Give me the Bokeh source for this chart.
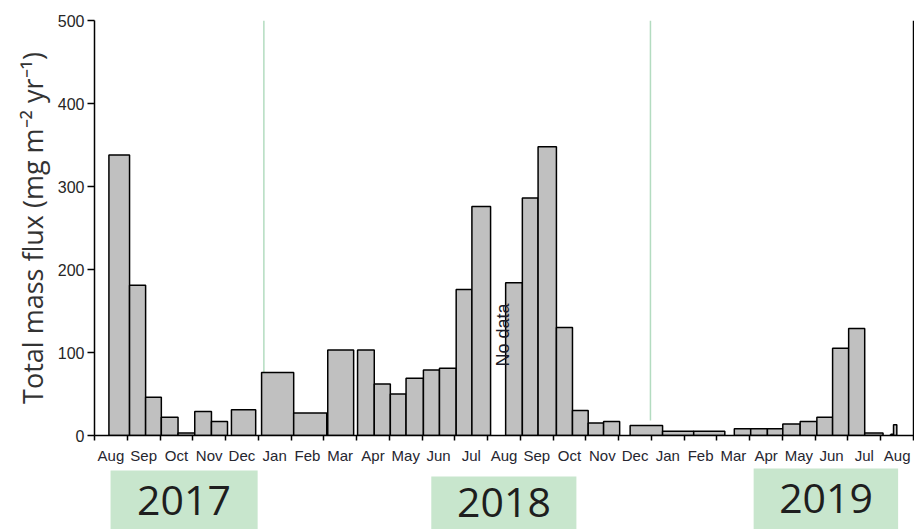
import math
from bokeh.plotting import figure
from bokeh.models import Range1d, FixedTicker, Span
from bokeh.layouts import column
from bokeh.embed import file_html
from bokeh.resources import INLINE
from bokeh.core.properties import value

# Sampling intervals, in months since 1 Aug 2017
bar_start = [0.44, 1.07, 1.56, 2.04, 2.55, 3.06, 3.57, 4.18, 5.10, 6.08,
             7.12, 8.03, 8.54, 9.03, 9.51, 10.04, 10.53, 11.04, 11.52, 12.55,
             13.06, 13.54, 14.10, 14.59, 15.07, 15.54, 16.35, 17.34, 18.29, 19.53,
             20.03, 20.54, 21.01, 21.54, 22.05, 22.53, 23.02, 23.51, 24.31, 24.39]
bar_end = [1.07, 1.56, 2.04, 2.55, 3.06, 3.57, 4.06, 4.92, 6.08, 7.09,
           7.91, 8.54, 9.03, 9.51, 10.04, 10.53, 11.04, 11.52, 12.09, 13.06,
           13.54, 14.10, 14.59, 15.07, 15.54, 16.03, 17.34, 18.29, 19.24, 20.03,
           20.54, 21.01, 21.54, 22.05, 22.53, 23.02, 23.51, 24.07, 24.39, 24.49]
# Total mass flux (mg m-2 yr-1)
flux = [338, 181, 46, 22, 3, 29, 17, 31, 76, 27,
        103, 103, 62, 50, 69, 79, 81, 176, 276, 184,
        286, 348, 130, 30, 15, 17, 12, 5, 5, 8,
        8, 8, 14, 17, 22, 105, 129, 3, 1.5, 13]

month_labels = ["Aug", "Sep", "Oct", "Nov", "Dec", "Jan", "Feb", "Mar", "Apr",
                "May", "Jun", "Jul", "Aug", "Sep", "Oct", "Nov", "Dec", "Jan",
                "Feb", "Mar", "Apr", "May", "Jun", "Jul", "Aug"]
y_ticks = [0, 100, 200, 300, 400, 500]
year_labels = ["2017", "2018", "2019"]
year_line_x = [5.17, 16.97]

no_data_x = 12.47
no_data_y = 121

x_range = Range1d(0, 25.03)

p = figure(width=914, height=466, x_range=x_range, y_range=Range1d(0, 500),
           output_backend="svg", toolbar_location=None,
           min_border_left=94, min_border_right=0, min_border_top=20, min_border_bottom=0)
p.outline_line_color = None
p.xgrid.grid_line_color = None
p.ygrid.grid_line_color = None
p.background_fill_color = "white"
p.border_fill_color = "white"

# year boundary lines
p.segment(x0=year_line_x, y0=[0, 18], x1=year_line_x, y1=[500, 500],
          line_color="#b3dcc0", line_width=1.5)

p.quad(left=bar_start, right=bar_end, bottom=0, top=flux,
       fill_color="#c0c0c0", line_color="black", line_width=1.5)

p.text(x=[no_data_x], y=[no_data_y], text=["No data"], angle=math.pi / 2,
       text_align="center", text_baseline="middle",
       text_font=value("Liberation Sans"), text_font_size="18px", text_color="#1c1c28")

p.add_layout(Span(location=25, dimension="height", line_color="black", line_width=1.5))

# x axis
xa = p.xaxis[0]
xa.ticker = FixedTicker(ticks=[i + 0.5 for i in range(25)], minor_ticks=list(range(26)))
xa.major_label_overrides = {i + 0.5: lab for i, lab in enumerate(month_labels)}
xa.major_tick_line_color = None
xa.major_tick_out = 0
xa.major_tick_in = 0
xa.minor_tick_line_color = "black"
xa.minor_tick_line_width = 1.5
xa.minor_tick_out = 5
xa.minor_tick_in = 0
xa.axis_line_width = 1.5
xa.axis_line_color = "black"
xa.major_label_standoff = 6
xa.major_label_text_font = "Liberation Sans"
xa.major_label_text_font_size = "15px"
xa.major_label_text_color = "#262630"

# y axis
ya = p.yaxis[0]
ya.ticker = FixedTicker(ticks=y_ticks)
ya.minor_tick_line_color = None
ya.major_tick_out = 7
ya.major_tick_in = 0
ya.major_tick_line_width = 1.5
ya.axis_line_width = 1.5
ya.axis_line_color = "black"
ya.major_label_standoff = 3
ya.major_label_text_font = "Liberation Sans"
ya.major_label_text_font_size = "16px"
ya.major_label_text_color = "#262626"
ya.axis_label = "Total mass flux (mg m\u207b\u00b2 yr\u207b\u00b9)"
ya.axis_label_text_font = "Open Sans"
ya.axis_label_text_font_style = "normal"
ya.axis_label_text_font_size = "27px"
ya.axis_label_text_color = "#333333"
ya.axis_label_standoff = 4

# year strip below
p2 = figure(width=914, height=63, x_range=x_range, y_range=Range1d(63, 0),
            output_backend="svg", toolbar_location=None,
            min_border_left=94, min_border_right=0, min_border_top=0, min_border_bottom=0)
p2.axis.visible = False
p2.grid.grid_line_color = None
p2.outline_line_color = None
p2.quad(left=[0.49, 10.28, 20.12], right=[4.98, 14.71, 24.53],
        top=[4, 10, 2], bottom=[63, 63, 63],
        fill_color="#c8e6cd", line_color=None)
p2.text(x=[2.73, 12.5, 22.33], y=[34, 36, 32], text=year_labels,
        text_align="center", text_baseline="middle",
        text_font=value("Open Sans"), text_font_size="41px", text_color="#1e1e1e")

layout = column(p, p2, spacing=0)
open("out.html", "w").write(file_html(layout, INLINE))
